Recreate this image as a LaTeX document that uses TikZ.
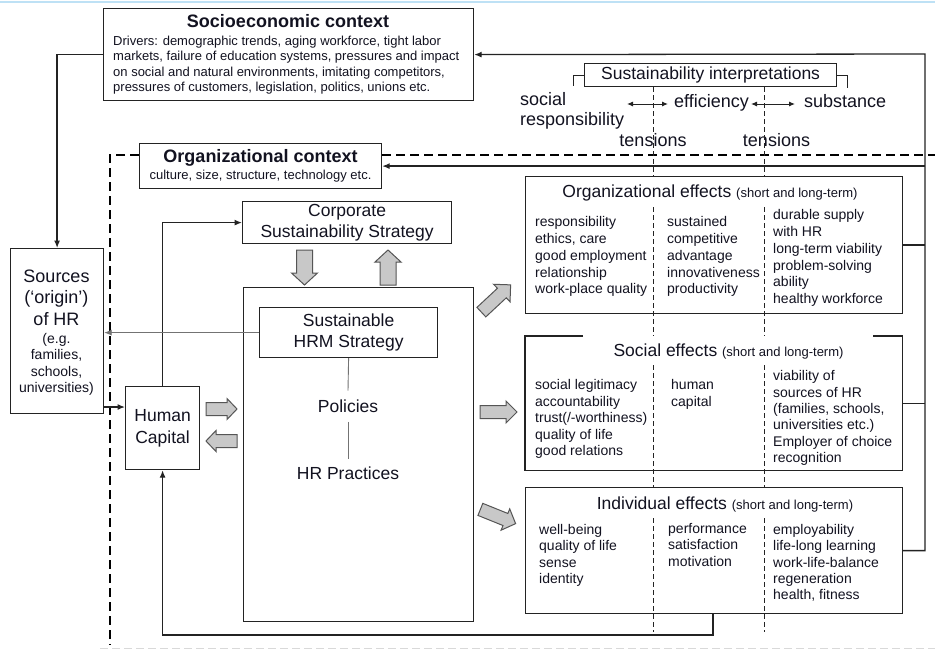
\documentclass[tikz,border=0pt]{standalone}
\usepackage{fontspec}
\setmainfont{Liberation Sans}
\usetikzlibrary{arrows.meta,calc}
\definecolor{ink}{RGB}{18,18,32}
\definecolor{rule}{RGB}{35,35,35}
\definecolor{fatfill}{RGB}{200,200,200}
\definecolor{fatedge}{RGB}{85,85,85}
\definecolor{topline}{RGB}{190,225,245}
\newcommand\fs[2]{\fontsize{#1}{#2}\selectfont}
\tikzset{
  box/.style={draw=rule, line width=1.2pt, inner sep=0pt, anchor=north west, text=ink, align=center},
  openbox/.style={inner sep=0pt, anchor=north west},
  txt/.style={inner sep=0pt, text=ink},
  conn/.style={draw=rule, line width=1.3pt},
  arrowend/.style={-{Latex[length=7.5pt,width=6pt]}},
  thin link/.style={draw=black!55, line width=0.9pt},
  twoway/.style={draw=rule, line width=1pt, {Latex[length=6pt,width=5pt]}-{Latex[length=6pt,width=5pt]}},
  column rule/.style={draw=rule, line width=0.9pt, dash pattern=on 5pt off 3pt},
  context rule/.style={draw=black, line width=2.4pt, dash pattern=on 9pt off 5pt},
  fatstyle/.style={draw=fatedge, fill=fatfill, line width=1pt, line join=miter},
  pics/fatarrow/.style n args={4}{code={
    \draw[fatstyle] (-#1/2,-#2) -- (#1/2-#4,-#2) -- (#1/2-#4,-#3) -- (#1/2,0)
      -- (#1/2-#4,#3) -- (#1/2-#4,#2) -- (-#1/2,#2) -- cycle;}},
}
\begin{document}
\begin{tikzpicture}[x=1pt,y=-1pt]
\fill[white] (0,0) rectangle (935,649);
\useasboundingbox (0,0) rectangle (935,649);
\draw[topline, line width=1.5pt] (0,2) -- (935,2);
\draw[black!15, line width=1pt, dash pattern=on 8pt off 4pt] (100,648) -- (935,648);

% --- socioeconomic context ---
\node[box, minimum width=370pt, minimum height=92pt] (socio) at (103,8) {};
\node[txt, anchor=base, font=\fs{18}{21}\bfseries] (sociotitle) at (288,27.7) {Socioeconomic context};
\node[txt, anchor=north west, align=left, font=\fs{13}{15.4}] (sociobody) at (113,35.8)
  {Drivers: demographic trends, aging workforce, tight labor\\
   markets, failure of education systems, pressures and impact\\
   on social and natural environments, imitating competitors,\\
   pressures of customers, legislation, politics, unions etc.};

% --- organizational context ---
\node[box, minimum width=242pt, minimum height=45pt] (org) at (139,143) {};
\node[txt, anchor=base, font=\fs{18}{21}\bfseries] (orgtitle) at (260.5,162.7) {Organizational context};
\node[txt, anchor=base, font=\fs{13}{15}] (orgsub) at (260.5,179.4) {culture, size, structure, technology etc.};
\coordinate (ctxcorner) at (110,155);
\coordinate (ctxfoot) at (110,645);
\coordinate (ctxend) at (935,155);
\draw[context rule] (org.west |- ctxcorner) -- (ctxcorner) -- (ctxfoot);
\draw[context rule] (org.east |- ctxend) -- (ctxend);

% --- sources of HR ---
\node[box, minimum width=93pt, minimum height=165pt] (sources) at (10,248) {};
\node[txt, anchor=north, align=center, font=\fs{18}{21.5}] (srcmain) at (56.5,269.4) {Sources\\(‘origin’)\\of HR};
\node[txt, anchor=north, align=center, font=\fs{14}{16.3}] (srcsub) at (56.5,333.3) {(e.g.\\families,\\schools,\\universities)};

% --- human capital and strategies ---
\node[box, minimum width=74pt, minimum height=83pt, font=\fs{17.5}{21.5}] (human) at (125,386) {Human\\Capital};
\node[box, minimum width=209pt, minimum height=42pt, font=\fs{17.5}{21}] (corp) at (242,201) {Corporate\\Sustainability Strategy};
\node[box, minimum width=230pt, minimum height=334pt] (hrm) at (243,287) {};
\node[box, minimum width=178pt, minimum height=50pt, font=\fs{17.5}{21}] (shrm) at (259,307) {Sustainable\\HRM Strategy};
\node[txt, anchor=base, inner ysep=9pt, font=\fs{17.5}{20}] (pol) at (348,412.6) {Policies};
\node[txt, anchor=base, inner ysep=8pt, font=\fs{17.5}{20}] (hrp) at (348,479.6) {HR Practices};
\draw[thin link] (shrm.south) -- (pol.north);
\draw[thin link] (pol.south) -- (hrp.north);

% --- sustainability interpretations ---
\node[box, minimum width=252pt, minimum height=23pt, font=\fs{17.5}{20}] (interp) at (584,63) {Sustainability interpretations};
\draw[rule, line width=1pt] (interp.west) -- ++(-11,0) -- ++(0,11);
\draw[rule, line width=1pt] (interp.east) -- ++(10,0) -- ++(0,13);
\node[txt, anchor=north west, align=left, font=\fs{18}{20}] (socresp) at (520,92.4) {social\\responsibility};
\node[txt, anchor=base west, font=\fs{18}{20}] (eff) at (674,107.7) {efficiency};
\node[txt, anchor=base west, font=\fs{18}{20}] (subst) at (804,107.7) {substance};
\node[txt, anchor=base, font=\fs{18}{20}] (tensA) at (653,146.7) {tensions};
\node[txt, anchor=base, font=\fs{18}{20}] (tensB) at (776.5,146.7) {tensions};
\coordinate (tA) at (627,104);
\coordinate (tA2) at (668,104);
\coordinate (tB) at (751,104);
\coordinate (tB2) at (795,104);
\draw[twoway] (tA) -- (tA2);
\draw[twoway] (tB) -- (tB2);

% --- effect boxes ---
\node[box, minimum width=377pt, minimum height=137pt] (orgeff) at (525,176) {};
\node[openbox, minimum width=377pt, minimum height=134pt] (soceff) at (525,336) {};
\draw[rule, line width=1.2pt] ($(soceff.north west)+(58,0)$) -- (soceff.north west) -- (soceff.south west)
  -- (soceff.south east) -- (soceff.north east) -- ++(-29,0);
\node[box, minimum width=377pt, minimum height=126pt] (indeff) at (525,487) {};

\node[txt, anchor=base] (oetitle) at (710,197.6)
  {\fs{17.5}{20}Organizational effects \fs{13}{15}(short and long-term)};
\node[txt, anchor=north west, align=left, font=\fs{14}{16.8}] (oeA) at (535,216.3)
  {responsibility\\ethics, care\\good employment\\relationship\\work-place quality};
\node[txt, anchor=north west, align=left, font=\fs{14}{16.8}] (oeB) at (667,216.3)
  {sustained\\competitive\\advantage\\innovativeness\\productivity};
\node[txt, anchor=north west, align=left, font=\fs{14}{16.8}] (oeC) at (773,209.3)
  {durable supply\\with HR\\long-term viability\\problem-solving\\ability\\healthy workforce};

\node[txt, anchor=base] (setitle) at (728.5,356.6)
  {\fs{17.5}{20}Social effects \fs{13}{15}(short and long-term)};
\node[txt, anchor=north west, align=left, font=\fs{14}{16.5}] (seA) at (535,379.3)
  {social legitimacy\\accountability\\trust(/-worthiness)\\quality of life\\good relations};
\node[txt, anchor=north west, align=left, font=\fs{14}{16.5}] (seB) at (671,379.3)
  {human\\capital};
\node[txt, anchor=north west, align=left, font=\fs{14}{16.4}] (seC) at (773,370.3)
  {viability of\\sources of HR\\(families, schools,\\universities etc.)\\Employer of choice\\recognition};

\node[txt, anchor=base] (ietitle) at (725,509.6)
  {\fs{17.5}{20}Individual effects \fs{13}{15}(short and long-term)};
\node[txt, anchor=north west, align=left, font=\fs{14}{16.3}] (ieA) at (539,524.3)
  {well-being\\quality of life\\sense\\identity};
\node[txt, anchor=north west, align=left, font=\fs{14}{16.3}] (ieB) at (668,523.3)
  {performance\\satisfaction\\motivation};
\node[txt, anchor=north west, align=left, font=\fs{14}{16.3}] (ieC) at (773,524.3)
  {employability\\life-long learning\\work-life-balance\\regeneration\\health, fitness};

% dashed column rules, broken where the box titles sit
\coordinate (colA) at (653,632);
\coordinate (colB) at (764,632);
\foreach \c in {colA,colB}{
  \draw[column rule] (\c |- interp.south) -- (\c |- orgeff.north);
  \draw[column rule] ($(\c |- orgeff.north)+(0,31)$) -- (\c |- soceff.north);
  \draw[column rule] ($(\c |- soceff.north)+(0,29)$) -- (\c |- indeff.north);
  \draw[column rule] ($(\c |- indeff.north)+(0,31)$) -- (\c);
}

% --- connectors ---
\coordinate (rail) at (925,54);
\draw[conn, arrowend] (socio.west) -| (sources.north);
\draw[conn, arrowend] (indeff.east) -| (rail) -- (socio.east);
\draw[conn] (orgeff.east) -- (orgeff.east -| rail);
\draw[conn] (soceff.east) -- (soceff.east -| rail);
\draw[conn, arrowend] (org.east -| rail) -- (org.east);
\coordinate (fb) at (713,635);
\draw[conn, arrowend] (fb |- indeff.south) -- (fb) -| (human.south);
\draw[conn, arrowend] (human.north) |- (corp.west);
\coordinate (s2h) at (103,407);
\draw[conn, arrowend] (s2h) -- (s2h -| human.west);
\draw[thin link, arrowend] (shrm.west) -- (shrm.west -| sources.east);

% --- block arrows ---
\pic[rotate=-90] at (304.5,267.5) {fatarrow={35}{8}{13}{12}};
\pic[rotate=90]  at (388,267.5)   {fatarrow={35}{8}{13}{12}};
\pic             at (221.5,409)   {fatarrow={31}{6.5}{10.5}{10}};
\pic[rotate=180] at (221.5,441)   {fatarrow={31}{6.5}{10.5}{10}};
\pic[rotate=43]  at (496,298.5)   {fatarrow={40}{6.5}{12}{12}};
\pic             at (498.5,412)   {fatarrow={37}{6.5}{11}{11}};
\pic[rotate=-22] at (498,516.5)   {fatarrow={38}{6.5}{11.5}{11}};
\end{tikzpicture}
\end{document}
